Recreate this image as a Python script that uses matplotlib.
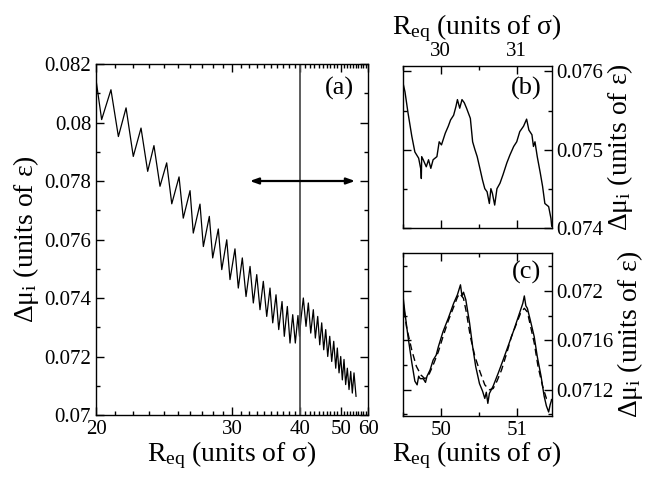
import numpy as np
import matplotlib

matplotlib.use("Agg")
import matplotlib.pyplot as plt  # noqa: E402
from matplotlib.ticker import FixedLocator, FuncFormatter, MultipleLocator  # noqa: E402

plt.rcParams["font.family"] = ["Liberation Serif", "DejaVu Serif"]
plt.rcParams["mathtext.fontset"] = "custom"
plt.rcParams["mathtext.rm"] = "Liberation Serif"
plt.rcParams["mathtext.it"] = "Liberation Serif:italic"

# ---- panel (a): full curve, peaks and troughs
r_main = [20.0, 20.28, 20.76, 21.16, 21.59, 22.01, 22.48, 22.9, 23.31, 23.72,
          24.19, 24.56, 25.11, 25.44, 25.99, 26.26, 26.84, 27.14, 27.69, 28.01,
          28.56, 28.91, 29.43, 29.78, 30.33, 30.71, 31.18, 31.63, 32.13, 32.55,
          33.0, 33.44, 33.9, 34.39, 34.87, 35.28, 35.79, 36.22, 36.76, 37.14,
          37.66, 38.13, 38.62, 39.1, 39.6, 39.9, 40.2, 40.66, 41.21, 41.7,
          42.22, 42.79, 43.25, 43.8, 44.28, 44.76, 45.26, 45.77, 46.29, 46.82,
          47.36, 47.92, 48.49, 48.95, 49.46, 49.97, 50.47, 51.0, 51.53, 52.08,
          52.65, 53.23, 53.79, 54.4, 55.14]
mu_main = [0.08146, 0.0801, 0.08112, 0.07952, 0.0805, 0.07884, 0.07981, 0.07833, 0.07921, 0.07782,
           0.07862, 0.07722, 0.07814, 0.07673, 0.07767, 0.07622, 0.07721, 0.07576, 0.07679, 0.07537,
           0.07636, 0.07497, 0.07599, 0.07463, 0.07568, 0.07434, 0.07537, 0.07405, 0.07508, 0.07383,
           0.0748, 0.0736, 0.07457, 0.07337, 0.07434, 0.07315, 0.07411, 0.07292, 0.07388, 0.07269,
           0.07371, 0.07246, 0.07343, 0.07246, 0.0734, 0.07269, 0.0733, 0.074, 0.07303, 0.07383,
           0.0728, 0.0736, 0.07263, 0.07337, 0.0724, 0.07315, 0.07223, 0.07292, 0.072, 0.07269,
           0.07183, 0.07252, 0.0716, 0.07229, 0.07144, 0.072, 0.0712, 0.0719, 0.07104, 0.0716,
           0.07087, 0.07149, 0.07075, 0.07144, 0.07064]

# ---- panel (b): zoom around R = 30
r_b = [29.5, 29.53, 29.57, 29.62, 29.66, 29.71, 29.74, 29.745, 29.75, 29.77,
       29.81, 29.84, 29.87, 29.9, 29.95, 29.98, 30.01, 30.06, 30.1, 30.13,
       30.17, 30.2, 30.22, 30.25, 30.28, 30.31, 30.34, 30.39, 30.42, 30.45,
       30.48, 30.52, 30.55, 30.58, 30.61, 30.64, 30.66, 30.68, 30.71, 30.74,
       30.78, 30.82, 30.87, 30.91, 30.96, 31.0, 31.04, 31.09, 31.13, 31.16,
       31.2, 31.22, 31.24, 31.27, 31.31, 31.34, 31.37, 31.42, 31.45, 31.46]
mu_b = [0.07587, 0.07574, 0.07547, 0.07517, 0.07497, 0.07489, 0.07474, 0.07463, 0.07491, 0.07487,
        0.07478, 0.07487, 0.07476, 0.07487, 0.07491, 0.0751, 0.07506, 0.07521, 0.0753, 0.07538,
        0.07544, 0.07555, 0.07564, 0.07553, 0.07564, 0.0756, 0.07553, 0.0754, 0.0751, 0.075,
        0.07491, 0.07474, 0.07461, 0.0745, 0.07446, 0.07431, 0.0745, 0.07444, 0.07429, 0.0745,
        0.07457, 0.07468, 0.07483, 0.07493, 0.07504, 0.0751, 0.07523, 0.0753, 0.07539, 0.07525,
        0.07519, 0.07504, 0.0751, 0.07491, 0.0747, 0.07453, 0.07431, 0.07427, 0.07412, 0.07402]

# ---- panel (c): zoom around R = 50, simulation (solid) and model (dashed)
r_c = [49.5, 49.53, 49.57, 49.62, 49.66, 49.69, 49.71, 49.73, 49.77, 49.8,
       49.82, 49.86, 49.9, 49.94, 49.97, 50.03, 50.1, 50.17, 50.22, 50.26,
       50.28, 50.3, 50.33, 50.38, 50.42, 50.46, 50.51, 50.55, 50.58, 50.6,
       50.62, 50.64, 50.69, 50.76, 50.82, 50.89, 50.96, 51.02, 51.08, 51.1,
       51.12, 51.14, 51.18, 51.23, 51.27, 51.32, 51.36, 51.39, 51.42, 51.44, 51.46]
mu_c = [0.07198, 0.07182, 0.07163, 0.07142, 0.07127, 0.07124, 0.07131, 0.07129, 0.07129, 0.07126,
        0.07131, 0.07136, 0.07144, 0.07148, 0.07155, 0.07167, 0.07178, 0.0719, 0.07197, 0.07205,
        0.07196, 0.07199, 0.07193, 0.07174, 0.07155, 0.07139, 0.07125, 0.07119, 0.07113, 0.07118,
        0.07109, 0.07117, 0.07123, 0.07134, 0.07144, 0.07156, 0.07168, 0.07179, 0.0719, 0.07196,
        0.07188, 0.07186, 0.07176, 0.07163, 0.07147, 0.07131, 0.07115, 0.07107, 0.07102, 0.07108, 0.07112]

r_c_model = [49.5, 49.55, 49.62, 49.68, 49.74, 49.79, 49.85, 49.9, 49.97, 50.03,
             50.1, 50.17, 50.22, 50.25, 50.3, 50.34, 50.39, 50.45, 50.52, 50.58,
             50.64, 50.69, 50.74, 50.8, 50.87, 50.93, 51.0, 51.05, 51.1, 51.14,
             51.18, 51.23, 51.28, 51.34, 51.39, 51.46]
mu_c_model = [0.07193, 0.07171, 0.07152, 0.07139, 0.07132, 0.07129, 0.07133, 0.0714, 0.07151, 0.07163,
              0.07176, 0.07187, 0.07195, 0.07198, 0.07194, 0.07182, 0.07163, 0.07147, 0.07134, 0.07124,
              0.0712, 0.07121, 0.07127, 0.07136, 0.0715, 0.07163, 0.07174, 0.07182, 0.07186, 0.07183,
              0.07172, 0.07158, 0.07139, 0.07123, 0.07113, 0.07112]

R_MARK = 40.0
ARROW_SPAN = (32.1, 54.8)
ARROW_MU = 0.078

XLABEL = r"R$_{\rm eq}$ (units of σ)"
YLABEL = r"Δμ$_{\rm i}$ (units of ε)"


def inv_forward(r):
    with np.errstate(divide="ignore"):
        return -1.0 / np.asarray(r, dtype=float)


def inv_inverse(v):
    with np.errstate(divide="ignore"):
        return -1.0 / np.asarray(v, dtype=float)


def style_ticks(ax):
    ax.tick_params(which="both", direction="in", top=True, right=True,
                   labelsize=15, width=1.0)
    ax.tick_params(which="major", length=6)
    ax.tick_params(which="minor", length=3)
    for sp in ax.spines.values():
        sp.set_linewidth(1.0)


fmt_g = FuncFormatter(lambda v, _: f"{v:g}")

fig = plt.figure(figsize=(6.47, 4.78), dpi=100)

# (a)
ax = fig.add_axes([0.1484, 0.1318, 0.4204, 0.7343])
ax.set_xscale("function", functions=(inv_forward, inv_inverse))
ax.plot(r_main, mu_main, color="black", lw=0.9)
ax.axvline(R_MARK, color="#505050", lw=1.3)
ax.annotate("", xy=(ARROW_SPAN[1], ARROW_MU), xytext=(ARROW_SPAN[0], ARROW_MU),
            arrowprops=dict(arrowstyle="<|-|>,head_length=0.5,head_width=0.18",
                            color="black", lw=1.6, shrinkA=0, shrinkB=0))
ax.set_xlim(20, 60)
ax.set_ylim(0.07, 0.082)
ax.xaxis.set_major_locator(FixedLocator([20, 30, 40, 50, 60]))
ax.xaxis.set_minor_locator(FixedLocator(list(range(21, 60))))
ax.xaxis.set_major_formatter(FuncFormatter(lambda v, _: f"{v:g}"))
ax.xaxis.set_minor_formatter(FuncFormatter(lambda v, _: ""))
ax.yaxis.set_major_locator(MultipleLocator(0.002))
ax.yaxis.set_minor_locator(MultipleLocator(0.001))
ax.yaxis.set_major_formatter(fmt_g)
style_ticks(ax)
ax.set_xlabel(XLABEL, fontsize=20, labelpad=0)
ax.set_ylabel(YLABEL, fontsize=20, labelpad=2)
ax.text(0.95, 0.93, "(a)", transform=ax.transAxes, fontsize=19, ha="right", va="center")

# (b)
axb = fig.add_axes([0.6224, 0.5236, 0.2303, 0.3383])
axb.plot(r_b, mu_b, color="black", lw=1.0)
axb.set_xlim(29.5, 31.46)
axb.set_ylim(0.074, 0.07607)
axb.xaxis.set_major_locator(MultipleLocator(1))
axb.xaxis.set_minor_locator(MultipleLocator(0.5))
axb.yaxis.set_major_locator(MultipleLocator(0.001))
axb.yaxis.set_minor_locator(MultipleLocator(0.0005))
axb.yaxis.set_major_formatter(fmt_g)
style_ticks(axb)
axb.tick_params(labelbottom=False, labeltop=True, labelleft=False, labelright=True)
axb.xaxis.set_label_position("top")
axb.yaxis.set_label_position("right")
axb.set_xlabel(XLABEL, fontsize=20, labelpad=6)
axb.set_ylabel(YLABEL, fontsize=20, labelpad=1)
axb.text(0.93, 0.86, "(b)", transform=axb.transAxes, fontsize=19, ha="right", va="center")

# (c)
axc = fig.add_axes([0.6224, 0.1303, 0.2303, 0.341])
axc.plot(r_c, mu_c, color="black", lw=1.0)
axc.plot(r_c_model, mu_c_model, color="black", lw=1.0, ls=(0, (5, 3)))
axc.set_xlim(49.5, 51.46)
axc.set_ylim(0.07099, 0.07231)
axc.xaxis.set_major_locator(MultipleLocator(1))
axc.xaxis.set_minor_locator(MultipleLocator(0.5))
axc.yaxis.set_major_locator(MultipleLocator(0.0004))
axc.yaxis.set_minor_locator(MultipleLocator(0.0002))
axc.yaxis.set_major_formatter(fmt_g)
style_ticks(axc)
axc.tick_params(labelleft=False, labelright=True)
axc.yaxis.set_label_position("right")
axc.set_xlabel(XLABEL, fontsize=20, labelpad=0)
axc.set_ylabel(YLABEL, fontsize=20, labelpad=1)
axc.text(0.93, 0.88, "(c)", transform=axc.transAxes, fontsize=19, ha="right", va="center")

fig.savefig("out.png", dpi=100)
plt.close(fig)
